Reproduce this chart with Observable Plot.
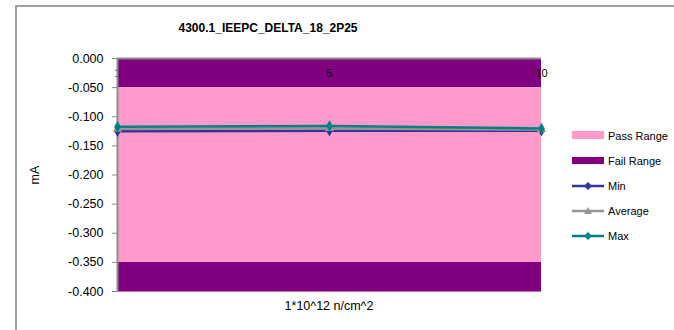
<!DOCTYPE html>
<html><head><meta charset="utf-8">
<script src="https://cdn.jsdelivr.net/npm/d3@7"></script>
<script src="https://cdn.jsdelivr.net/npm/@observablehq/plot@0.6"></script>
<style>
body{margin:0;background:#fff;font-family:"Liberation Sans",Arial,sans-serif;}
#wrap{position:relative;width:674px;height:330px;overflow:hidden;}
#frame{position:absolute;left:15px;top:5px;width:700px;height:400px;border-left:2px solid #a0a0a0;border-top:2px solid #a0a0a0;}
#title{position:absolute;left:0;width:536px;top:21px;text-align:center;font-weight:bold;font-size:12px;color:#000;}
#xlabel{position:absolute;left:117px;width:424px;top:299px;text-align:center;font-size:12.5px;color:#000;}
#legend{position:absolute;left:572px;top:123px;font-size:11px;color:#000;}
.li{height:25px;display:flex;align-items:center;}
.li svg{margin-right:3px;}
#chart{position:absolute;left:0;top:0;}
</style></head>
<body><div id="wrap"><div id="frame"></div><div id="chart"></div><div id="title"></div><div id="xlabel"></div><div id="legend"></div></div>
<script>
const title = "4300.1_IEEPC_DELTA_18_2P25";
const xTitle = "1*10^12 n/cm^2";
const yTitle = "mA";
const categories = ["1", "5", "10"];
const minVals = [-0.125, -0.124, -0.124];
const avgVals = [-0.121, -0.120, -0.122];
const maxVals = [-0.117, -0.116, -0.120];
const bandNames = ["Fail Range", "Pass Range", "Fail Range"];
const bandLow = [-0.05, -0.35, -0.40];
const bandHigh = [0.0, -0.05, -0.35];
const yTicks = [0, -0.05, -0.1, -0.15, -0.2, -0.25, -0.3, -0.35, -0.4];
const colors = {"Pass Range": "#FF99CC", "Fail Range": "#800080", "Min": "#333399", "Average": "#969696", "Max": "#008080"};

const bandRows = [];
bandNames.forEach((b, i) => categories.forEach(c => bandRows.push({cat: c, band: b + i, name: b, lo: bandLow[i], hi: bandHigh[i]})));
const series = [["Min", minVals, "diamond"], ["Average", avgVals, "triangle"], ["Max", maxVals, "diamond"]];
const pts = [];
series.forEach(([s, vals, sym]) => vals.forEach((v, i) => pts.push({cat: categories[i], v, s, sym})));

const chart = Plot.plot({
  width: 674, height: 330,
  marginLeft: 117, marginRight: 133, marginTop: 58, marginBottom: 39,
  style: {fontFamily: '"Liberation Sans",Arial,sans-serif', fontSize: "12.5px", color: "#000", background: "transparent"},
  x: {type: "point", domain: categories, padding: 0, axis: null},
  y: {domain: [-0.4, 0]},
  marks: [
    Plot.areaY(bandRows, {x: "cat", y1: "lo", y2: "hi", z: "band", fill: d => colors[d.name], fillOpacity: 1, curve: "linear"}),
    Plot.ruleY([-0.4], {stroke: "#d070b0", strokeWidth: 1}),
    Plot.ruleY([0], {stroke: "#8c8c8c", strokeWidth: 2}),
    Plot.text(categories, {x: d => d, y: () => 0, dy: 15, text: d => d, fontSize: 11, fill: "#000"}),
    Plot.axisY({ticks: yTicks, tickFormat: d => d.toFixed(3), tickSize: 5, tickPadding: 9, stroke: "#8c8c8c", label: yTitle, labelAnchor: "center", labelArrow: "none", labelOffset: 87}),
    Plot.ruleX([categories[0]], {stroke: "#8c8c8c", strokeWidth: 2}),
    Plot.line(pts, {x: "cat", y: "v", z: "s", stroke: d => colors[d.s], strokeWidth: 2.5}),
    Plot.dot(pts, {x: "cat", y: "v", symbol: "sym", fill: d => colors[d.s], r: 3.5, stroke: "none"})
  ]
});
document.getElementById("chart").appendChild(chart);
document.getElementById("title").textContent = title;
document.getElementById("xlabel").textContent = xTitle;

const legendItems = [["Pass Range", "rect"], ["Fail Range", "rect"], ["Min", "diamond"], ["Average", "triangle"], ["Max", "diamond"]];
const lg = document.getElementById("legend");
legendItems.forEach(([name, kind]) => {
  const div = document.createElement("div");
  div.className = "li";
  const c = colors[name];
  let svg;
  if (kind === "rect") {
    svg = `<svg width="33" height="10"><rect x="0" y="${name==="Pass Range"?0:1}" width="32" height="${name==="Pass Range"?8:7}" fill="${c}"/></svg>`;
  } else {
    const sym = kind === "diamond" ? `<path d="M16,1 L20,5 L16,9 L12,5Z" fill="${c}"/>` : `<path d="M16,1 L20,8 L12,8Z" fill="${c}"/>`;
    svg = `<svg width="33" height="10"><line x1="0" x2="32" y1="5" y2="5" stroke="${c}" stroke-width="2.5"/>${sym}</svg>`;
  }
  div.innerHTML = svg + `<span>${name}</span>`;
  lg.appendChild(div);
});
</script></body></html>
